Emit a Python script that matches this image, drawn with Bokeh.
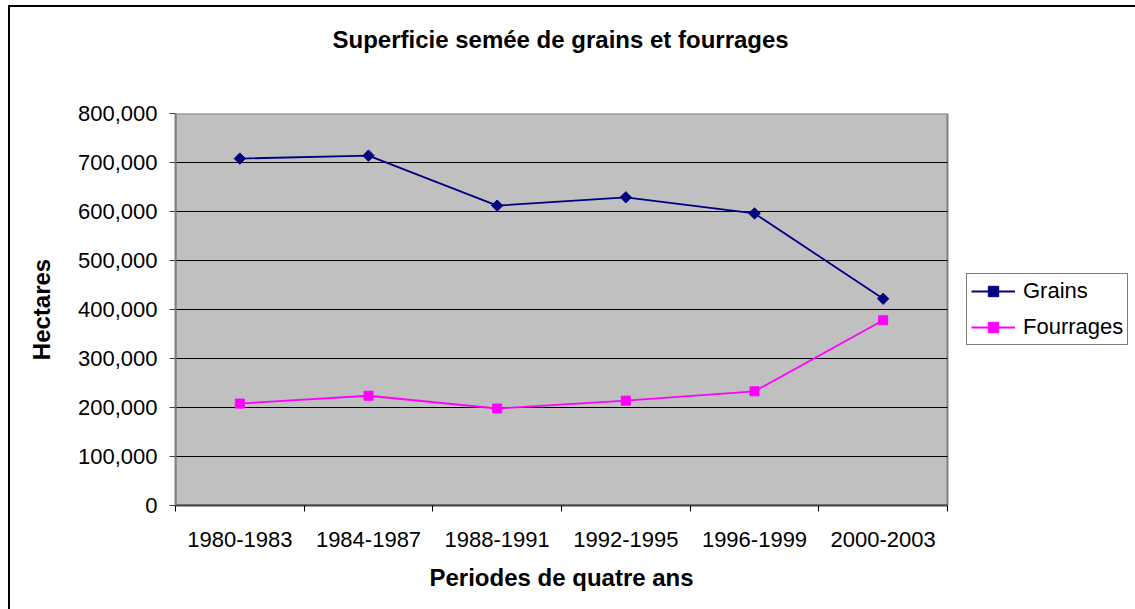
import numpy as np
from bokeh.plotting import figure
from bokeh.models import (Range1d, FixedTicker, NumeralTickFormatter, Legend, LegendItem, Title)
from bokeh.embed import file_html
from bokeh.resources import INLINE

periods = ["1980-1983", "1984-1987", "1988-1991", "1992-1995", "1996-1999", "2000-2003"]
grains = [708000, 714000, 612000, 629000, 596000, 422000]
fourrages = [208000, 224000, 198000, 214000, 233000, 378000]
y_ticks = [0, 100000, 200000, 300000, 400000, 500000, 600000, 700000, 800000]
series_names = ["Grains", "Fourrages"]

n = len(periods)
xs = np.arange(n) + 0.5
y_max = y_ticks[-1]
FONT = "Liberation Sans"
NAVY = "#000080"
MAGENTA = "#FF00FF"

# plot area occupies 772 of the 960 px frame; the rest holds the legend
FRAME_W, AREA_W = 960, 772
p = figure(title=None, frame_width=FRAME_W, frame_height=392, output_backend="svg",
           toolbar_location=None,
           x_range=Range1d(0, n * FRAME_W / AREA_W), y_range=Range1d(0, y_max),
           min_border_left=165, min_border_right=0, min_border_top=106, min_border_bottom=104)
p.styles = {"margin-left": "8px", "margin-top": "5px",
            "border-left": "2px solid black", "border-top": "2px solid black"}

p.background_fill_color = "white"
p.border_fill_color = "white"
p.outline_line_color = None

spacer = Title(text=" ", text_font=FONT, text_font_size="10px", standoff=43)
p.add_layout(spacer, "above")
main_title = Title(text="Superficie semée de grains et fourrages", align="left", offset=157,
                   text_font=FONT, text_font_size="24px", text_font_style="bold",
                   text_color="black", standoff=10)
p.add_layout(main_title, "above")

# plot area background + gridlines
p.quad(left=0, right=n, bottom=0, top=y_max, fill_color="#C0C0C0",
       line_color="#808080", line_width=2, level="image")
p.segment(x0=[0] * (len(y_ticks) - 2), x1=[n] * (len(y_ticks) - 2),
          y0=y_ticks[1:-1], y1=y_ticks[1:-1], line_color="black", line_width=1, level="image")
p.xgrid.grid_line_color = None
p.ygrid.grid_line_color = None

# x axis
xa = p.xaxis[0]
xa.bounds = (0, n)
xa.ticker = FixedTicker(ticks=list(xs), minor_ticks=list(range(n + 1)))
xa.major_label_overrides = {float(x): lab for x, lab in zip(xs, periods)}
xa.major_tick_out = 0
xa.major_tick_in = 0
xa.minor_tick_out = 6
xa.minor_tick_in = 0
xa.minor_tick_line_color = "black"
xa.axis_line_color = "#404040"
xa.axis_line_width = 2
xa.major_label_text_font = FONT
xa.major_label_text_font_size = "22px"
xa.major_label_text_color = "black"
xa.major_label_standoff = 20

x_title = Title(text="Periodes de quatre ans", align="left", offset=254,
                text_font=FONT, text_font_size="24px", text_font_style="bold",
                text_color="black", standoff=24)
p.add_layout(x_title, "below")

# y axis
ya = p.yaxis[0]
ya.ticker = FixedTicker(ticks=y_ticks)
ya.formatter = NumeralTickFormatter(format="0,0")
ya.minor_tick_line_color = None
ya.major_tick_out = 6
ya.major_tick_in = 0
ya.major_tick_line_color = "#404040"
ya.axis_line_color = "#808080"
ya.axis_line_width = 2
ya.major_label_text_font = FONT
ya.major_label_text_font_size = "22px"
ya.major_label_text_color = "black"
ya.major_label_standoff = 12
ya.axis_label = "Hectares"
ya.axis_label_text_font = FONT
ya.axis_label_text_font_size = "24px"
ya.axis_label_text_font_style = "bold"
ya.axis_label_text_color = "black"
ya.axis_label_standoff = 20

gl = p.line(xs, grains, line_color=NAVY, line_width=1.8)
gm = p.scatter(xs, grains, marker="square", angle=np.pi / 4, size=8, fill_color=NAVY, line_color=NAVY)
fl = p.line(xs, fourrages, line_color=MAGENTA, line_width=1.8)
fm = p.scatter(xs, fourrages, marker="square", size=9, fill_color=MAGENTA, line_color=MAGENTA)

legend = Legend(items=[LegendItem(label=series_names[0], renderers=[gl, gm]),
                       LegendItem(label=series_names[1], renderers=[fl, fm])],
                location=(791, 160))
legend.border_line_color = "black"
legend.border_line_width = 1
legend.background_fill_color = "white"
legend.background_fill_alpha = 1
legend.label_text_font = FONT
legend.label_text_font_size = "22px"
legend.label_text_color = "black"
legend.glyph_width = 44
legend.glyph_height = 26
legend.label_height = 26
legend.label_standoff = 8
legend.spacing = 10
legend.padding = 4
legend.margin = 0
p.add_layout(legend, "center")

open("out.html", "w").write(file_html(p, INLINE))
